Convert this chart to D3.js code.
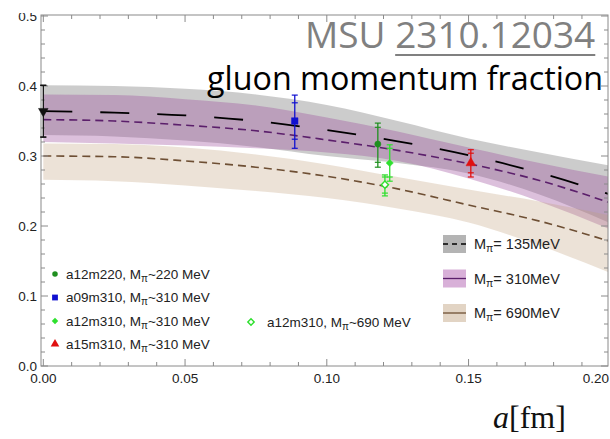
<!DOCTYPE html>
<html>
<head>
<meta charset="utf-8">
<script src="https://cdn.jsdelivr.net/npm/d3@7"></script>
<style>
  html, body { margin: 0; padding: 0; background: #fff; }
  svg { display: block; }
</style>
</head>
<body>
<svg id="chart" width="610" height="439"></svg>
<script>
// Lattice spacing samples (fm) for the chiral/continuum fit bands
const aGrid = [0, 0.025, 0.05, 0.075, 0.1, 0.125, 0.15, 0.175, 0.2];

// M_pi = 135 MeV fit: central value and band edges
const fit135Mid = [0.364, 0.362, 0.358, 0.350, 0.337, 0.321, 0.301, 0.276, 0.245];
const fit135Hi  = [0.401, 0.400, 0.396, 0.388, 0.373, 0.350, 0.325, 0.305, 0.286];
const fit135Lo  = [0.330, 0.328, 0.322, 0.313, 0.300, 0.290, 0.275, 0.245, 0.204];

// M_pi = 310 MeV fit
const fit310Mid = [0.352, 0.350, 0.344, 0.336, 0.323, 0.308, 0.289, 0.265, 0.233];
const fit310Hi  = [0.388, 0.387, 0.381, 0.372, 0.355, 0.335, 0.312, 0.290, 0.270];
const fit310Lo  = [0.320, 0.318, 0.315, 0.311, 0.305, 0.293, 0.268, 0.235, 0.195];

// M_pi = 690 MeV fit
const fit690Mid = [0.300, 0.299, 0.293, 0.284, 0.271, 0.253, 0.230, 0.207, 0.178];
const fit690Hi  = [0.318, 0.317, 0.312, 0.302, 0.288, 0.270, 0.252, 0.235, 0.215];
const fit690Lo  = [0.266, 0.264, 0.258, 0.250, 0.240, 0.225, 0.205, 0.172, 0.133];

// Ensemble results: spacing, value, inner (stat) and outer (total) error ranges
const pointNames  = ["cont135", "a12m220", "a09m310", "a12m310", "a12m310_690", "a15m310"];
const pointA      = [0.0, 0.118, 0.0887, 0.1222, 0.1205, 0.1508];
const pointVal    = [0.364, 0.317, 0.350, 0.290, 0.259, 0.290];
const pointInLo   = [0.327, 0.291, 0.324, 0.270, 0.247, 0.276];
const pointInHi   = [0.401, 0.341, 0.376, 0.311, 0.270, 0.304];
const pointOutLo  = [0.327, 0.284, 0.311, 0.264, 0.243, 0.270];
const pointOutHi  = [0.401, 0.347, 0.387, 0.316, 0.273, 0.309];

// Axis ticks
const xMajor = [0, 0.05, 0.1, 0.15, 0.2];
const xMajorLabels = ["0.00", "0.05", "0.10", "0.15", "0.20"];
const yMajor = [0, 0.1, 0.2, 0.3, 0.4, 0.5];
const yMajorLabels = ["0.0", "0.1", "0.2", "0.3", "0.4", "0.5"];

// Legend entries
const pointLegendLabels = [
  ["a12m220, M", "~220 MeV"],
  ["a09m310, M", "~310 MeV"],
  ["a12m310, M", "~310 MeV"],
  ["a15m310, M", "~310 MeV"]
];
const fitLegendLabels = ["= 135MeV", "= 310MeV", "= 690MeV"];

const svg = d3.select("#chart");

const frame = { left: 41, right: 608, top: 15, bottom: 366 };
const x = d3.scaleLinear().domain([0, 0.2]).range([43.3, 610.3]);
const y = d3.scaleLinear().domain([0, 0.5]).range([366, 16]);

const frameColor = "#8a8a8a";
const labelFont = "'Liberation Sans', Arial, sans-serif";

// ---- Fit bands ----
function bandData(lo, hi) {
  return aGrid.map((a, i) => ({ a, lo: lo[i], hi: hi[i] }));
}
const area = d3.area()
  .x(d => x(d.a))
  .y0(d => y(d.lo))
  .y1(d => y(d.hi))
  .curve(d3.curveMonotoneX);

const defs = svg.append("defs");
defs.append("clipPath").attr("id", "plotClip")
  .append("rect")
  .attr("x", frame.left).attr("y", frame.top)
  .attr("width", frame.right - frame.left).attr("height", frame.bottom - frame.top);

const plot = svg.append("g").attr("clip-path", "url(#plotClip)");

plot.append("path").datum(bandData(fit135Lo, fit135Hi))
  .attr("d", area).attr("fill", "#7f7f7f").attr("fill-opacity", 0.4);
plot.append("path").datum(bandData(fit310Lo, fit310Hi))
  .attr("d", area).attr("fill", "#9a4a9a").attr("fill-opacity", 0.35);
plot.append("path").datum(bandData(fit690Lo, fit690Hi))
  .attr("d", area).attr("fill", "#c0a07a").attr("fill-opacity", 0.3);

// ---- Central fit lines ----
const line = d3.line()
  .x(d => x(d.a))
  .y(d => y(d.v))
  .curve(d3.curveMonotoneX);
function lineData(vals) { return aGrid.map((a, i) => ({ a, v: vals[i] })); }

plot.append("path").datum(lineData(fit690Mid))
  .attr("d", line).attr("fill", "none")
  .attr("stroke", "#6e4f34").attr("stroke-width", 1.6).attr("stroke-dasharray", "8,5");
plot.append("path").datum(lineData(fit310Mid))
  .attr("d", line).attr("fill", "none")
  .attr("stroke", "#5b1f6b").attr("stroke-width", 1.6).attr("stroke-dasharray", "8,5");
plot.append("path").datum(lineData(fit135Mid))
  .attr("d", line).attr("fill", "none")
  .attr("stroke", "#000").attr("stroke-width", 1.8).attr("stroke-dasharray", "29,28");

// ---- Frame and ticks ----
const axes = svg.append("g");
axes.append("rect")
  .attr("x", frame.left).attr("y", frame.top)
  .attr("width", frame.right - frame.left).attr("height", frame.bottom - frame.top)
  .attr("fill", "none").attr("stroke", frameColor).attr("stroke-width", 1);

const xMinor = d3.range(0, 0.2001, 0.01).filter(v => !xMajor.some(m => Math.abs(m - v) < 1e-9));
const yMinor = d3.range(0, 0.5001, 0.02).filter(v => !yMajor.some(m => Math.abs(m - v) < 1e-9));

function xTick(v, len) {
  const px = x(v);
  if (px > frame.right) return;
  axes.append("line").attr("x1", px).attr("x2", px)
    .attr("y1", frame.bottom).attr("y2", frame.bottom - len)
    .attr("stroke", frameColor);
  axes.append("line").attr("x1", px).attr("x2", px)
    .attr("y1", frame.top).attr("y2", frame.top + len)
    .attr("stroke", frameColor);
}
function yTick(v, len) {
  const py = y(v);
  axes.append("line").attr("x1", frame.left).attr("x2", frame.left + len)
    .attr("y1", py).attr("y2", py).attr("stroke", frameColor);
  axes.append("line").attr("x1", frame.right).attr("x2", frame.right - len)
    .attr("y1", py).attr("y2", py).attr("stroke", frameColor);
}
xMajor.forEach(v => xTick(v, 7));
xMinor.forEach(v => xTick(v, 4));
yMajor.forEach(v => yTick(v, 7));
yMinor.forEach(v => yTick(v, 4));

// the last label sits at the right window edge, so keep it inside
axes.selectAll(".xlab").data(xMajor).join("text")
  .attr("x", d => Math.min(x(d), 609))
  .attr("y", 383)
  .attr("text-anchor", d => x(d) > 600 ? "end" : "middle")
  .attr("font-family", labelFont).attr("font-size", 13.5).attr("fill", "#222")
  .text((d, i) => xMajorLabels[i]);

defs.append("clipPath").attr("id", "ylabClip")
  .append("rect").attr("x", 0).attr("y", 13).attr("width", 41).attr("height", 400);
axes.append("g").attr("clip-path", "url(#ylabClip)")
  .selectAll(".ylab").data(yMajor).join("text")
  .attr("x", 37).attr("y", d => y(d) + 4.8)
  .attr("text-anchor", "end")
  .attr("font-family", labelFont).attr("font-size", 13.5).attr("fill", "#222")
  .text((d, i) => yMajorLabels[i]);

// ---- Data points ----
const pointStyle = {
  cont135:      { color: "#111",    shape: "tri-down", fill: true },
  a12m220:      { color: "#1f8f1f", shape: "circle",   fill: true },
  a09m310:      { color: "#1010d0", shape: "square",   fill: true },
  a12m310:      { color: "#2ee02e", shape: "diamond",  fill: true },
  a12m310_690:  { color: "#2ee02e", shape: "diamond",  fill: false },
  a15m310:      { color: "#e01010", shape: "tri-up",   fill: true }
};

function markerPath(shape, size) {
  switch (shape) {
    case "circle":   return d3.symbol(d3.symbolCircle, size)();
    case "square":   return d3.symbol(d3.symbolSquare, size)();
    case "diamond":  return d3.symbol(d3.symbolSquare, size)();
    case "tri-up":   return d3.symbol(d3.symbolTriangle, size)();
    case "tri-down": return d3.symbol(d3.symbolTriangle, size)();
  }
}
function markerTransform(shape, cx, cy) {
  if (shape === "diamond") return `translate(${cx},${cy}) rotate(45)`;
  if (shape === "tri-down") return `translate(${cx},${cy}) rotate(180)`;
  return `translate(${cx},${cy})`;
}
const markerSize = { circle: 30, square: 42, diamond: 26, "tri-up": 40, "tri-down": 40 };

const pts = svg.append("g");
pointNames.forEach((name, i) => {
  const st = pointStyle[name];
  const cx = x(pointA[i]);
  const g = pts.append("g").attr("stroke", st.color);
  g.append("line").attr("x1", cx).attr("x2", cx)
    .attr("y1", y(pointOutLo[i])).attr("y2", y(pointOutHi[i]))
    .attr("stroke-width", 1.3);
  [pointOutLo[i], pointOutHi[i], pointInLo[i], pointInHi[i]].forEach(v => {
    g.append("line").attr("x1", cx - 3).attr("x2", cx + 3)
      .attr("y1", y(v)).attr("y2", y(v)).attr("stroke-width", 1.2);
  });
  g.append("path")
    .attr("d", markerPath(st.shape, markerSize[st.shape]))
    .attr("transform", markerTransform(st.shape, cx, y(pointVal[i])))
    .attr("fill", st.fill ? st.color : "#fff")
    .attr("stroke-width", st.fill ? 0.5 : 1.4);
});

// ---- Point legend (left) ----
const legendPointNames = ["a12m220", "a09m310", "a12m310", "a15m310"];
const legendRowsY = [274, 297.5, 321, 344];
const legL = svg.append("g");
legendPointNames.forEach((name, i) => {
  const st = pointStyle[name];
  legL.append("path")
    .attr("d", markerPath(st.shape, markerSize[st.shape] * 0.8))
    .attr("transform", markerTransform(st.shape, 55, legendRowsY[i]))
    .attr("fill", st.color);
  const t = legL.append("text")
    .attr("x", 66).attr("y", legendRowsY[i] + 4.8)
    .attr("font-family", labelFont).attr("font-size", 13.5).attr("fill", "#222");
  t.append("tspan").text(pointLegendLabels[i][0]);
  t.append("tspan").attr("dy", 3).attr("font-size", 10).text("\u03c0");
  t.append("tspan").attr("dy", -3).text(pointLegendLabels[i][1]);
});

// extra entry for the heavy-pion ensemble
{
  const st = pointStyle.a12m310_690;
  legL.append("path")
    .attr("d", markerPath(st.shape, 20))
    .attr("transform", markerTransform(st.shape, 251, 322))
    .attr("fill", "#fff").attr("stroke", st.color).attr("stroke-width", 1.4);
  const t = legL.append("text")
    .attr("x", 267).attr("y", 326.8)
    .attr("font-family", labelFont).attr("font-size", 13.5).attr("fill", "#222");
  t.append("tspan").text("a12m310, M");
  t.append("tspan").attr("dy", 3).attr("font-size", 10).text("\u03c0");
  t.append("tspan").attr("dy", -3).text("~690 MeV");
}

// ---- Fit legend (right) ----
const fitSwatch = ["#b4b4b4", "#d8b0d8", "#e2d4c4"];
const fitLine = ["#000", "#5b1f6b", "#6e4f34"];
const fitDash = ["5,4", null, null];
const fitRowsY = [244, 278.5, 313];
const legR = svg.append("g");
fitRowsY.forEach((cy, i) => {
  legR.append("rect").attr("x", 443).attr("y", cy - 9)
    .attr("width", 23).attr("height", 18).attr("fill", fitSwatch[i]);
  const l = legR.append("line").attr("x1", 443).attr("x2", 466)
    .attr("y1", cy).attr("y2", cy)
    .attr("stroke", fitLine[i]).attr("stroke-width", 1.3);
  if (fitDash[i]) l.attr("stroke-dasharray", fitDash[i]);
  const t = legR.append("text")
    .attr("x", 474).attr("y", cy + 5)
    .attr("font-family", labelFont).attr("font-size", 14.5).attr("fill", "#222");
  t.append("tspan").text("M");
  t.append("tspan").attr("dy", 3).attr("font-size", 10.5).text("\u03c0");
  t.append("tspan").attr("dy", -3).text(fitLegendLabels[i]);
});

// ---- Headline text ----
const head = svg.append("text")
  .attr("x", 305).attr("y", 48)
  .attr("font-family", "'Open Sans', 'Noto Sans', sans-serif")
  .attr("font-size", 37).attr("fill", "#808080");
head.append("tspan").text("MSU ");
head.append("tspan").text("2310.12034");
{
  const node = head.node();
  const n = node.getNumberOfChars();
  const x0 = node.getStartPositionOfChar(4).x;
  const x1 = node.getEndPositionOfChar(n - 1).x;
  svg.append("line").attr("x1", x0).attr("x2", x1)
    .attr("y1", 55).attr("y2", 55)
    .attr("stroke", "#808080").attr("stroke-width", 2);
}

svg.append("text")
  .attr("x", 207).attr("y", 90)
  .attr("font-family", "'Open Sans', 'Noto Sans', sans-serif")
  .attr("font-size", 32).attr("fill", "#000")
  .attr("textLength", 396).attr("lengthAdjust", "spacingAndGlyphs")
  .text("gluon momentum fraction");

// ---- x-axis title ----
const xt = svg.append("text")
  .attr("x", 493).attr("y", 428)
  .attr("font-family", "'Liberation Serif', 'Times New Roman', serif")
  .attr("font-size", 32).attr("fill", "#111");
xt.append("tspan").attr("font-style", "italic").text("a");
xt.append("tspan").text("[fm]");
</script>
</body>
</html>
